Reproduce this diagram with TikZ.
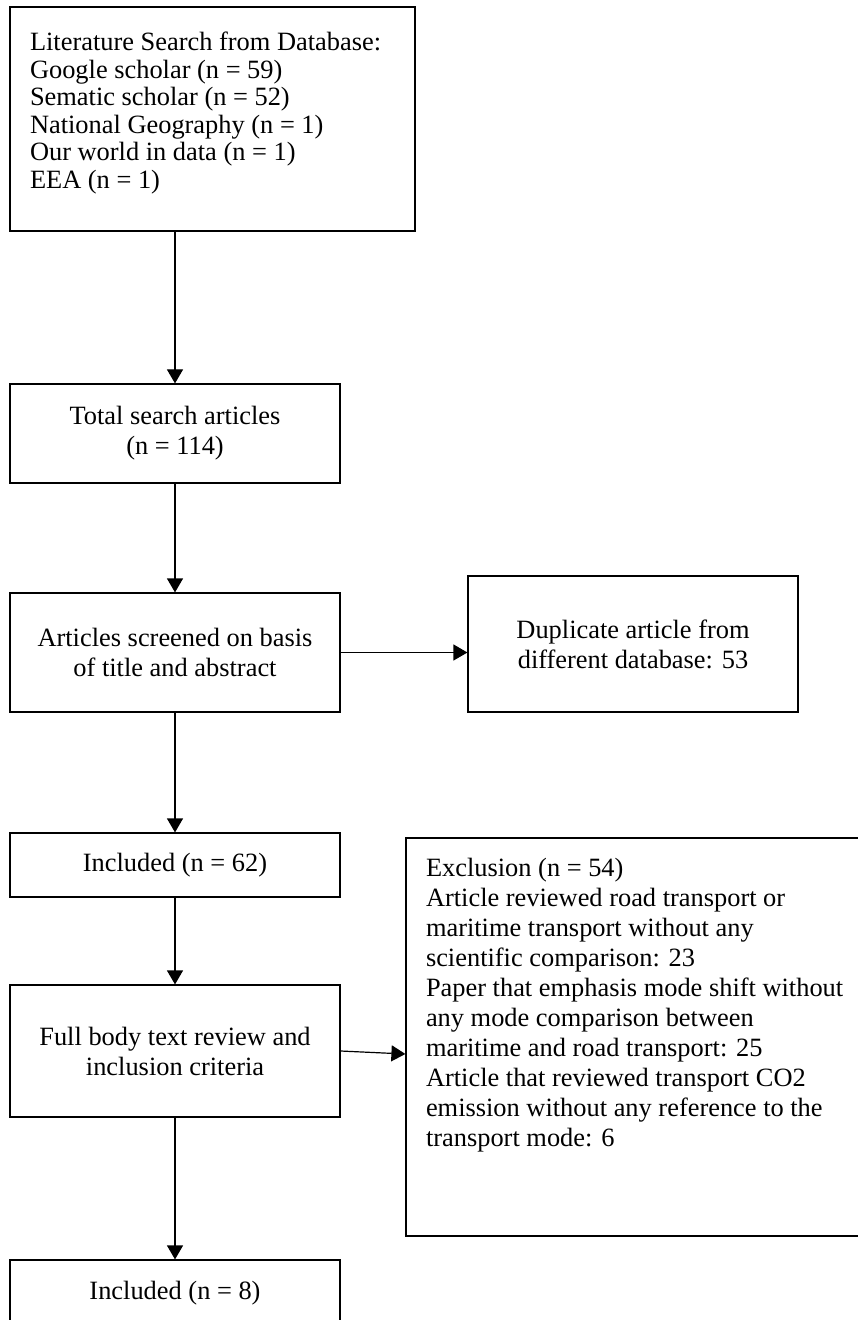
\documentclass[tikz,border=0pt]{standalone}
\usepackage{fontspec}
\setmainfont{Liberation Serif}
\usetikzlibrary{arrows.meta}
\tikzstyle{stage}=[draw, line width=0.6pt, minimum width=165pt, align=center, inner sep=0pt, font=\fontsize{13.2}{15}\selectfont]
\tikzstyle{listbox}=[draw, line width=0.6pt, inner xsep=10pt, font=\fontsize{13.2}{13.75}\selectfont]
\tikzstyle{flow}=[line width=0.6pt, -{Triangle[length=7pt,width=8pt]}]

\begin{document}
\begin{tikzpicture}[x=0.5pt, y=-0.5pt]
	\useasboundingbox (0,0) rectangle (857,1320);
	\node[listbox, inner ysep=12.5pt] (lit) at (212.5,119) {\parbox[c][87pt][t]{182.5pt}{Literature Search from Database:\\
		Google scholar (n = 59)\\
		Sematic scholar (n = 52)\\
		National Geography (n = 1)\\
		Our world in data (n = 1)\\
		EEA (n = 1)}};
	\node[stage, minimum height=49.5pt] (total) at (175,433.5) {Total search articles\\ (n = 114)};
	\node[stage, minimum height=59.5pt] (screen) at (175,652.5) {Articles screened on basis\\of title and abstract};
	\node[stage, minimum height=68pt] (dup) at (633,644) {Duplicate article from\\different database: 53};
	\node[stage, minimum height=32pt] (inc) at (175,865) {Included (n = 62)};
	\node[stage, minimum height=66pt] (full) at (175,1051) {Full body text review and\\inclusion criteria};
	\node[listbox, font=\fontsize{13.2}{15}\selectfont, inner ysep=10pt] (excl) at (643,1037) {\parbox[c][179pt][t]{217pt}{Exclusion (n = 54)\\
		Article reviewed road transport or\\
		maritime transport without any\\
		scientific comparison: 23\\
		Paper that emphasis mode shift without\\
		any mode comparison between\\
		maritime and road transport: 25\\
		Article that reviewed transport CO2\\
		emission without any reference to the\\
		transport mode: 6}};
	\node[stage, minimum height=33pt] (final) at (175,1293) {Included (n = 8)};
	\draw[flow] (total.north |- lit.south) -- (total.north);
	\draw[flow] (total.south) -- (screen.north);
	\draw[flow] (screen.east) -- (screen.east -| dup.west);
	\draw[flow] (screen.south) -- (inc.north);
	\draw[flow] (inc.south) -- (full.north);
	\draw[flow] (full.east) -- ([yshift=-1.5pt]full.east -| excl.west);
	\draw[flow] (full.south) -- (final.north);
\end{tikzpicture}
\end{document}
